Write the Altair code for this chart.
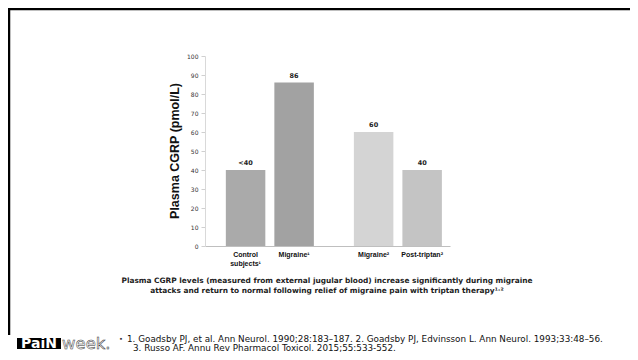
import altair as alt
import pandas as pd

# ---- data ----
categories = ["Control\nsubjects¹", "Migraine¹", "Migraine²", "Post-triptan²"]
groups = ["Study 1", "Study 1", "Study 2", "Study 2"]
slots = ["a", "b", "a", "b"]
values = [40, 86, 60, 40]
value_labels = ["<40", "86", "60", "40"]
bar_colors = ["#aaaaaa", "#a2a2a2", "#d4d4d4", "#c4c4c4"]
y_ticks = [0, 10, 20, 30, 40, 50, 60, 70, 80, 90, 100]

y_title = "Plasma CGRP (pmol/L)"
caption_1 = "Plasma CGRP levels (measured from external jugular blood) increase significantly during migraine"
caption_2 = "attacks and return to normal following relief of migraine pain with triptan therapy\u00b9\u02d2\u00b2"
ref_line_1 = "1. Goadsby PJ, et al. Ann Neurol. 1990;28:183\u2013187. 2. Goadsby PJ, Edvinsson L. Ann Neurol. 1993;33:48\u201356."
ref_line_2 = "3. Russo AF. Annu Rev Pharmacol Toxicol. 2015;55:533-552."

df = pd.DataFrame({
    "category": categories,
    "group": groups,
    "slot": slots,
    "value": values,
    "label": value_labels,
})
one = pd.DataFrame({"k": [0]})

FONT = "DejaVu Sans"
ARIAL = "Liberation Sans, Arial, sans-serif"
REF_FONT = "DejaVu Sans, sans-serif"

x_enc = alt.X("group:N", axis=alt.Axis(title=None, labels=False, ticks=False,
                                        domainColor="#bfbfbf", domainWidth=1),
              scale=alt.Scale(paddingInner=0.3125, paddingOuter=0.113, align=0.72))
xo_enc = alt.XOffset("slot:N", scale=alt.Scale(paddingInner=0.186, paddingOuter=0))
y_enc = alt.Y("value:Q", scale=alt.Scale(domain=[0, 100]),
              axis=alt.Axis(title=None, values=y_ticks, labelFontSize=6, labelFont=FONT,
                            labelColor="#333333", tickSize=4, tickColor="#d0d0d0",
                            domainColor="#d9d9d9", grid=False, labelPadding=3))

base = alt.Chart(df)

bars = base.mark_bar().encode(
    x=x_enc, xOffset=xo_enc, y=y_enc,
    color=alt.Color("category:N", scale=alt.Scale(domain=categories, range=bar_colors), legend=None),
)

bar_text = base.mark_text(baseline="bottom", dy=-4, fontSize=6.5, fontWeight="bold",
                          font=FONT, color="#222222").encode(
    x=x_enc, xOffset=xo_enc, y=y_enc, text="label:N")

x_labels = base.mark_text(baseline="top", fontSize=7, fontWeight="bold", font=ARIAL,
                          color="#111111", lineBreak="\n", lineHeight=9).encode(
    x=x_enc, xOffset=xo_enc, y=alt.value(195), text="category:N")

def txt(s, x, y, **kw):
    return alt.Chart(one).mark_text(**kw).encode(x=alt.value(x), y=alt.value(y), text=alt.value(s))

ytitle = txt(y_title, -30, 95, angle=270, fontSize=12.5, fontWeight="bold",
             font=ARIAL, color="#111111")

cap1 = txt(caption_1, 122, 225, fontSize=7.4, fontWeight="bold", font=FONT, color="#222222")
cap2 = txt(caption_2, 122, 235, fontSize=7.4, fontWeight="bold", font=FONT, color="#222222")

top_border = alt.Chart(one).mark_rule(color="#000000", strokeWidth=2.5).encode(
    x=alt.value(-197), x2=alt.value(425), y=alt.value(-47))
left_border = alt.Chart(one).mark_rule(color="#000000", strokeWidth=2.5).encode(
    x=alt.value(-196), y=alt.value(-48), y2=alt.value(279))

logo_box = alt.Chart(one).mark_rect(color="#000000").encode(
    x=alt.value(-188), x2=alt.value(-144), y=alt.value(282), y2=alt.value(293))
logo_pain = txt("PaiN", -166, 288, fontSize=14, fontWeight="bold", font="DejaVu Sans",
                color="#ffffff", baseline="middle")
logo_week = txt("week.", -143, 288, fontSize=16.5, font="DejaVu Sans",
                align="left", baseline="middle", fill="#ffffff", stroke="#333333", strokeWidth=0.5)

bullet = txt("\u25aa", -84, 283, fontSize=7, color="#333333", baseline="middle")
ref1 = txt(ref_line_1, -78, 283, fontSize=8.8, font=REF_FONT, align="left",
           baseline="middle", color="#111111")
ref2 = txt(ref_line_2, -72, 291.5, fontSize=8.8, font=REF_FONT, align="left",
           baseline="middle", color="#111111")

chart = alt.layer(
    bars, bar_text, x_labels, ytitle, cap1, cap2, top_border, left_border,
    logo_box, logo_pain, logo_week, bullet, ref1, ref2
).properties(
    width=245, height=190,
    autosize=alt.AutoSizeParams(type="none"),
    padding={"left": 197, "top": 48, "right": 180, "bottom": 106},
    background="#ffffff",
).configure_view(stroke=None)

chart.save("out.html", embed_options={"renderer": "svg", "actions": False})
